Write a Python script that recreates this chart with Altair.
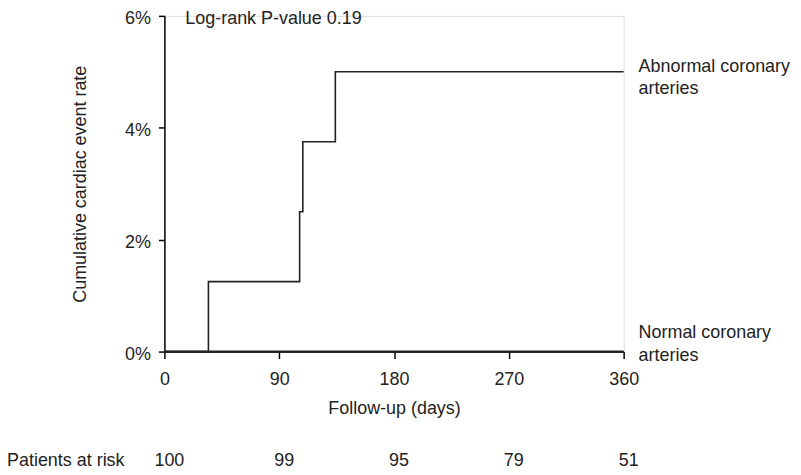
import altair as alt
import pandas as pd

# ---- data ----
abn_days = [0, 34.5, 106, 108.5, 134, 360]
abn_rate = [0.0, 0.0125, 0.025, 0.0375, 0.05, 0.05]
norm_days = [0, 360]
norm_rate = [0.0, 0.0]
x_ticks = [0, 90, 180, 270, 360]
y_ticks = [0.0, 0.02, 0.04, 0.06]
at_risk = [100, 99, 95, 79, 51]
risk_label = ["Patients at risk"]
pvalue_text = ["Log-rank P-value 0.19"]
abn_label = ["Abnormal coronary\narteries"]
norm_label = ["Normal coronary\narteries"]

FONT = "Liberation Sans"
FS = 18
INK = "#222222"

df_abn = pd.DataFrame({"day": abn_days, "rate": abn_rate})
df_norm = pd.DataFrame({"day": norm_days, "rate": norm_rate})
df_risk = pd.DataFrame({"day": x_ticks, "n": at_risk})

xscale = alt.Scale(domain=[0, 360], nice=False, zero=False)
yscale = alt.Scale(domain=[0, 0.06], nice=False)

xaxis = alt.Axis(
    values=x_ticks, title="Follow-up (days)", grid=False,
    tickSize=7, tickWidth=1.5, tickColor="black",
    domainColor="black", domainWidth=1.5,
    labelFontSize=FS, labelFont=FONT, labelColor=INK, labelPadding=12,
    labelFlush=False,
    titleFontSize=FS, titleFont=FONT, titleColor=INK, titleFontWeight="normal",
    titleY=57, titleBaseline="middle",
)
yaxis = alt.Axis(
    values=y_ticks, format=".0%", title="Cumulative cardiac event rate", grid=False,
    tickSize=6, tickWidth=1.5, tickColor="black",
    domainColor="black", domainWidth=1.5,
    labelFontSize=FS, labelFont=FONT, labelColor=INK, labelPadding=8,
    labelOffset=2.5,
    titleFontSize=FS, titleFont=FONT, titleColor=INK, titleFontWeight="normal",
    titleX=-84, titleY=168.5, titleBaseline="middle",
)

X = alt.X("day:Q", scale=xscale, axis=xaxis)
Y = alt.Y("rate:Q", scale=yscale, axis=yaxis)

line_abn = alt.Chart(df_abn).mark_line(
    interpolate="step-after", color=INK, strokeWidth=1.6
).encode(x=X, y=Y)

line_norm = alt.Chart(df_norm).mark_line(
    color=INK, strokeWidth=2.4
).encode(x=X, y=Y)

txt = dict(font=FONT, fontSize=FS, color=INK)

pval = alt.Chart(pd.DataFrame({"day": [0], "rate": [0.06], "t": pvalue_text})).mark_text(
    align="left", baseline="middle", dx=21, dy=3, **txt
).encode(x=X, y=Y, text="t:N")

lab_abn = alt.Chart(pd.DataFrame({"day": [360], "rate": [0.05], "t": abn_label})).mark_text(
    align="left", baseline="alphabetic", dx=15, dy=0, lineBreak="\n", lineHeight=22, **txt
).encode(x=X, y=Y, text="t:N")

lab_norm = alt.Chart(pd.DataFrame({"day": [360], "rate": [0.0], "t": norm_label})).mark_text(
    align="left", baseline="alphabetic", dx=15, dy=-14, lineBreak="\n", lineHeight=23, **txt
).encode(x=X, y=Y, text="t:N")

risk_nums = alt.Chart(df_risk).mark_text(
    align="center", baseline="middle", dx=5, **txt
).encode(x=X, y=alt.value(447), text="n:Q")

risk_title = alt.Chart(pd.DataFrame({"t": risk_label})).mark_text(
    align="left", baseline="middle", **txt
).encode(x=alt.value(-158), y=alt.value(447), text="t:N")

chart = alt.layer(
    line_norm, line_abn, pval, lab_abn, lab_norm, risk_nums, risk_title
).properties(
    width=461, height=337,
    autosize=alt.AutoSizeParams(type="none"),
    padding={"left": 157, "top": 7, "right": 170, "bottom": 122},
).configure_view(stroke=None).configure(background="white")

chart.save("out.html", embed_options={"renderer": "svg", "actions": False})
